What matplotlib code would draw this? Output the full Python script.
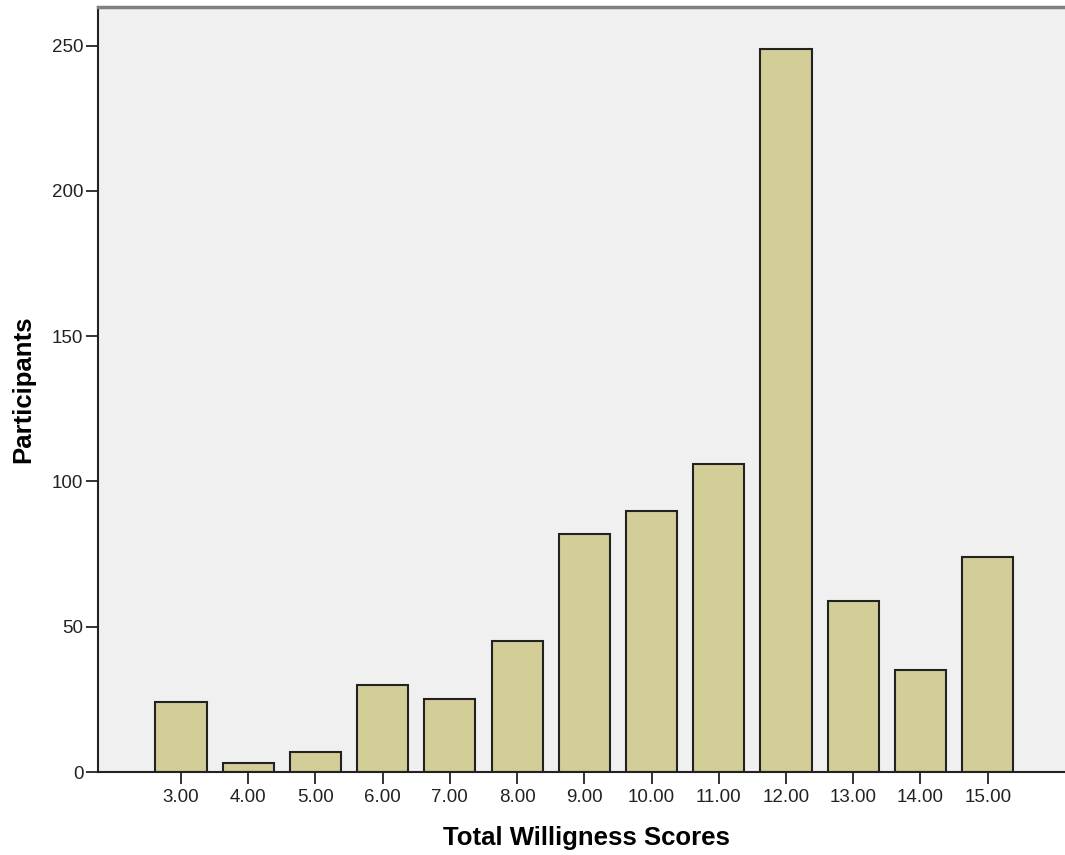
import matplotlib
matplotlib.use("Agg")
import matplotlib.pyplot as plt

# Willingness score categories and participant counts
scores = [3, 4, 5, 6, 7, 8, 9, 10, 11, 12, 13, 14, 15]
score_labels = ["3.00", "4.00", "5.00", "6.00", "7.00", "8.00", "9.00",
                "10.00", "11.00", "12.00", "13.00", "14.00", "15.00"]
participants = [24, 3, 7, 30, 25, 45, 82, 90, 106, 249, 59, 35, 74]
y_ticks = [0, 50, 100, 150, 200, 250]

plt.rcParams['font.family'] = ['Liberation Sans', 'DejaVu Sans']

fig = plt.figure(figsize=(10.65, 8.55), dpi=100)
ax = fig.add_axes([98 / 1065, 83 / 855, 1 - 98 / 1065, (772 - 7) / 855])
ax.set_facecolor('#F0F0F0')

ax.bar(scores, participants, width=0.76, color='#D3CE97',
       edgecolor='#222222', linewidth=1.5, zorder=2)

ax.set_xlim(1.766, 16.15)
ax.set_ylim(0, 263.3)
ax.set_xticks(scores)
ax.set_xticklabels(score_labels)
ax.set_yticks(y_ticks)

ax.tick_params(axis='both', direction='out', length=8.5, width=1.3,
               color='#222222', labelsize=13.5, labelcolor='#222222', pad=2)
ax.tick_params(axis='x', pad=3.5)

for side in ['left', 'bottom']:
    ax.spines[side].set_color('#222222')
    ax.spines[side].set_linewidth(1.5)
ax.spines['top'].set_color('#808080')
ax.spines['top'].set_linewidth(2.5)
ax.spines['right'].set_visible(False)

ax.set_xlabel('Total Willigness Scores', fontsize=18.5, fontweight='bold')
ax.xaxis.set_label_coords(0.5047, -0.086)
ax.xaxis.label.set_va('center')
ax.set_ylabel('Participants', fontsize=18.5, fontweight='bold', labelpad=12)

fig.savefig('out.png', dpi=100)
